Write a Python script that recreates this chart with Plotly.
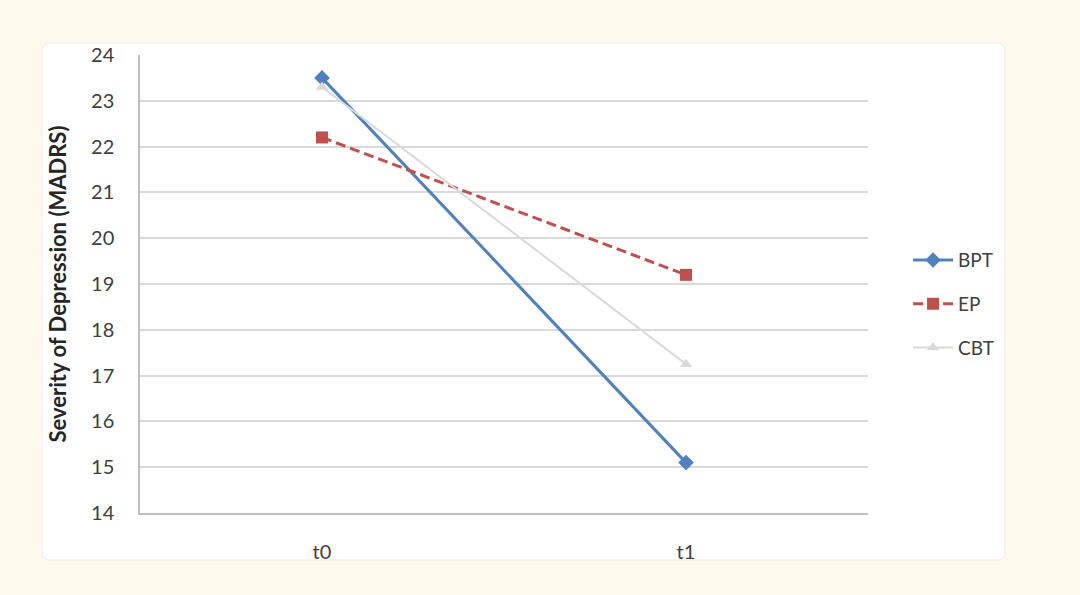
import plotly.graph_objects as go

# Data
time_points = ["t0", "t1"]
bpt_values = [23.5, 15.1]
ep_values = [22.2, 19.2]
cbt_values = [23.3, 17.25]

FONT = "Lato, 'Open Sans', sans-serif"
TEXT_COLOR = "#404040"
PAGE_BG = "#FDF9EC"

figure = go.Figure()
figure.add_trace(
    go.Scatter(
        x=time_points,
        y=bpt_values,
        mode="lines+markers",
        name="BPT",
        legendgroup="bpt",
        line={"color": "#4F81BD", "width": 3},
        marker={"symbol": "diamond", "size": 12, "color": "#4F81BD"},
    )
)
figure.add_trace(
    go.Scatter(
        x=time_points,
        y=ep_values,
        mode="lines+markers",
        name="EP",
        legendgroup="ep",
        line={"color": "#C0504D", "width": 3, "dash": "10px,5px"},
        marker={"symbol": "square", "size": 12, "color": "#C0504D"},
    )
)
figure.add_trace(
    go.Scatter(
        x=time_points,
        y=cbt_values,
        mode="lines+markers",
        name="CBT",
        legendgroup="cbt",
        line={"color": "#D9D9D9", "width": 2},
        marker={"symbol": "triangle-up", "size": 11, "color": "#D9D9D9"},
    )
)

# white rounded card behind the chart
x0, x1, y0, y1 = -0.1346, 1.188, -0.1026, 1.026
rx, ry = 0.011, 0.0175
card_path = (
    f"M {x0 + rx},{y0} L {x1 - rx},{y0} Q {x1},{y0} {x1},{y0 + ry} "
    f"L {x1},{y1 - ry} Q {x1},{y1} {x1 - rx},{y1} "
    f"L {x0 + rx},{y1} Q {x0},{y1} {x0},{y1 - ry} "
    f"L {x0},{y0 + ry} Q {x0},{y0} {x0 + rx},{y0} Z"
)
figure.add_shape(
    type="path",
    path=card_path,
    xref="paper",
    yref="paper",
    fillcolor="#FFFFFF",
    line={"color": "#EDEDED", "width": 1},
    layer="below",
)

figure.update_layout(
    width=1080,
    height=595,
    paper_bgcolor=PAGE_BG,
    plot_bgcolor="#FFFFFF",
    margin={"l": 140, "r": 212, "t": 55, "b": 82},
    font={"family": FONT, "size": 20, "color": TEXT_COLOR},
    showlegend=True,
    legend={
        "x": 1.055,
        "y": 0.456,
        "xanchor": "left",
        "yanchor": "middle",
        "bgcolor": "rgba(0,0,0,0)",
        "tracegroupgap": 16,
        "itemwidth": 40,
        "font": {"family": FONT, "size": 19, "color": TEXT_COLOR},
    },
    xaxis={
        "type": "category",
        "range": [-0.5, 1.5],
        "showgrid": False,
        "showline": True,
        "linecolor": "#BFBFBF",
        "linewidth": 1.5,
        "ticks": "outside",
        "ticklen": 20,
        "tickcolor": "rgba(0,0,0,0)",
        "zeroline": False,
    },
    yaxis={
        "range": [14, 24],
        "dtick": 1,
        "showgrid": True,
        "gridcolor": "#D9D9D9",
        "gridwidth": 1.5,
        "showline": True,
        "linecolor": "#BFBFBF",
        "linewidth": 1.5,
        "ticks": "outside",
        "ticklen": 20,
        "tickcolor": "rgba(0,0,0,0)",
        "zeroline": False,
        "title": {
            "text": "<b>Severity of Depression (MADRS)</b>",
            "standoff": 18,
            "font": {"family": FONT, "size": 22, "color": "#262626"},
        },
    },
)

figure.write_html(
    "out.html",
    config={"displayModeBar": False},
    post_script=f"document.body.style.margin='0';document.body.style.background='{PAGE_BG}';",
)
